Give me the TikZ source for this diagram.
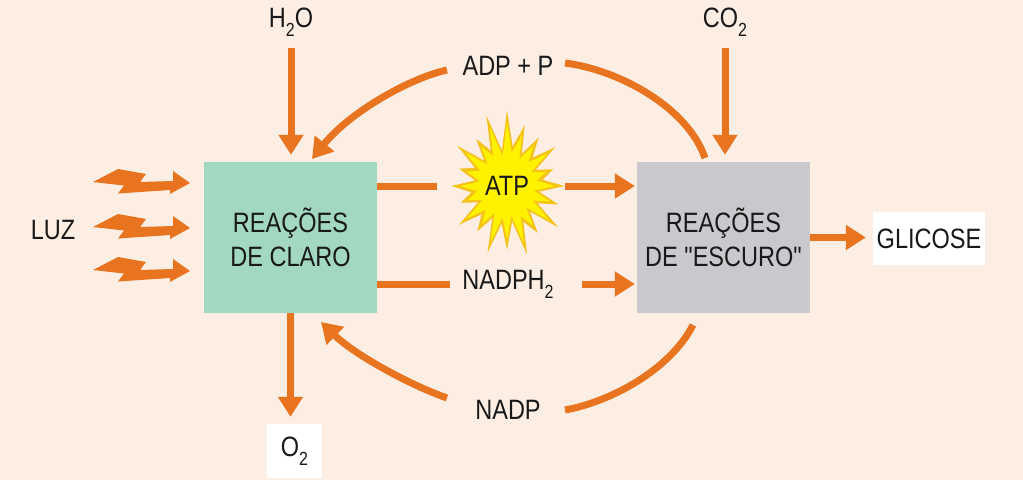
\documentclass[tikz,border=0pt]{standalone}
\usepackage{fontspec}
\setmainfont{Liberation Sans}[FakeStretch=0.84]
\newfontfamily\plainq{Liberation Sans}[FakeStretch=0.84]
\usetikzlibrary{arrows.meta}
\definecolor{bg}{HTML}{FDEEE4}
\definecolor{org}{HTML}{E8741F}
\definecolor{mint}{HTML}{A2D8C2}
\definecolor{grayb}{HTML}{C9C9CD}
\definecolor{gold}{HTML}{F4C21A}
\definecolor{yel}{HTML}{FFF200}
\newcommand{\lowidx}[1]{\raisebox{-0.32em}{\fontsize{19pt}{19pt}\selectfont #1}}
\newcommand{\sq}{{\plainq"}}
\begin{document}
\begin{tikzpicture}[x=1pt,y=-1pt,
  every node/.style={font=\fontsize{28pt}{34pt}\selectfont, text=black!90, inner sep=0pt},
  arr/.style={draw=org, line width=7pt, -{Triangle[length=20pt,width=24pt]}},
  ln/.style={draw=org, line width=7pt},
  box/.style={minimum width=173pt, minimum height=151pt, align=center},
  wbox/.style={fill=white}]
\fill[bg] (0,0) rectangle (1023,480);

% boxes
\node[box, fill=mint] (claro) at (290.5,237.5) {REAÇÕES\\DE CLARO};
\node[box, fill=grayb] (escuro) at (723.5,237.5) {REAÇÕES\\DE \sq ESCURO\sq};
\node[wbox, minimum width=112pt, minimum height=53pt] (gli) at (929,238.5) {GLICOSE};
\node[wbox, minimum width=55pt, minimum height=54pt] (o2) at (294.5,451) {O\lowidx{2}};

% labels
\node (h2o) at (291,22) {H\lowidx{2}O};
\node (co2) at (725,22) {CO\lowidx{2}};
\node (luz) at (53,230) {LUZ};
\node (adp) at (508,66) {ADP + P};
\node (nadp) at (508,410) {NADP};
\node (nadph) at (508,284) {NADPH\lowidx{2}};

% starburst
\def\burstpts{9/36,18/60,27/38,36/70,45/36,54/58,63/40,72/72,81/36,90/64,99/38,108/70,117/36,126/56,135/40,144/66,153/36,162/54,171/40,180/62,189/36,198/56,207/40,216/68,225/36,234/58,243/40,252/74,261/36,270/76,279/40,288/64,297/36,306/60,315/40,324/66,333/36,342/54,351/40}
\begin{scope}[shift={(507,186)}, xscale=0.9]
\fill[gold] (0:64) \foreach \a/\r in \burstpts {-- (\a:\r)} -- cycle;
\fill[yel, scale=0.84] (0:64) \foreach \a/\r in \burstpts {-- (\a:\r)} -- cycle;
\end{scope}
\node (atp) at (507,186) {ATP};

% lightning bolts
\foreach \yy in {183,228,271}{
  \fill[org, shift={(190,\yy)}] (-97,-1) -- (-72,-14) -- (-44,-9) -- (-50,-1) -- (-17,-2) -- (-17,-12) -- (0,0) -- (-20,11) -- (-20,7) -- (-72,10.5) -- (-66,2.5) -- cycle;
}

% straight arrows
\draw[arr, shorten <=12pt, shorten >=7pt] (h2o.south) -- (h2o.south |- claro.north);
\draw[arr, shorten <=12pt, shorten >=7pt] (co2.south) -- (co2.south |- escuro.north);
\draw[arr, shorten >=7pt] (claro.south) -- (claro.south |- o2.north);
\draw[arr, shorten >=7pt] (escuro.east) -- (escuro.east -| gli.west);
\draw[ln, shorten >=48pt] (claro.east |- atp) -- (atp.west);
\draw[arr, shorten <=36pt, shorten >=2pt] (atp.east) -- (escuro.west |- atp);
\draw[ln, shorten >=12pt] (claro.east |- nadph) -- (nadph.west);
\draw[arr, shorten <=28pt, shorten >=2pt] (nadph.east) -- (escuro.west |- nadph);

% curved connectors
\coordinate (adpL) at (447,70);
\coordinate (adpR) at (565,63);
\coordinate (claroTR) at (312,159);
\coordinate (escuroTL) at (705,158);
\coordinate (nadpL) at (447,398);
\coordinate (nadpR) at (565,410);
\coordinate (claroBR) at (321,322);
\coordinate (escuroBL) at (693,325);
\draw[arr] (adpL) .. controls (410,78) and (350,112) .. (claroTR);
\draw[ln] (adpR) .. controls (620,70) and (688,108) .. (escuroTL);
\draw[arr] (nadpL) .. controls (410,385) and (355,355) .. (claroBR);
\draw[ln] (nadpR) .. controls (610,402) and (670,370) .. (escuroBL);
\end{tikzpicture}
\end{document}
